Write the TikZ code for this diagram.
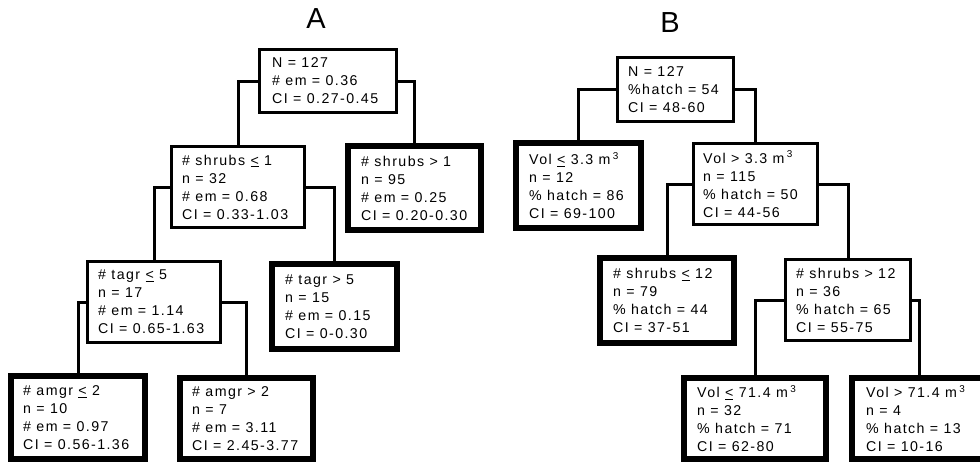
\documentclass[tikz,border=0pt]{standalone}
\usepackage{fontspec}
\setmainfont{Liberation Sans}[LetterSpace=10]
\newcommand\leu{\underline{<}}
\newcommand\cube{\,\textsuperscript{3}}
\begin{document}
\begin{tikzpicture}[x=1pt,y=-1pt,
  thinbox/.style={draw, line width=3.2pt, inner sep=0pt},
  thickbox/.style={draw, line width=6pt, inner sep=0pt},
  txt/.style={anchor=west, inner sep=0pt, align=left, font=\fontsize{14.2}{18}\selectfont},
  conn/.style={line width=3pt},
  ttl/.style={font=\fontsize{29}{30}\selectfont}]
\useasboundingbox (0,0) rectangle (980,463);
\clip (0,0) rectangle (980,463);
% titles
\node[ttl] (tA) at (316,19) {A};
\node[ttl] (tB) at (670,23) {B};
% tree A
\node[thinbox, minimum width=136.8, minimum height=62.8] (a0) at (328,81) {};
\node[thinbox, minimum width=132.8, minimum height=80.8] (a1) at (238,187) {};
\node[thickbox, minimum width=133, minimum height=84] (a2) at (414.5,188) {};
\node[thinbox, minimum width=132.8, minimum height=80.8] (a3) at (154,302) {};
\node[thickbox, minimum width=125, minimum height=85] (a4) at (334.5,306.5) {};
\node[thickbox, minimum width=134, minimum height=83] (a5) at (78,417.5) {};
\node[thickbox, minimum width=133, minimum height=81] (a6) at (246.5,418.5) {};
\node[txt] (ta0) at ([xshift=14]a0.west) {N = 127\\\# em = 0.36\\CI = 0.27-0.45};
\node[txt] (ta1) at ([xshift=12]a1.west) {\# shrubs \leu{} 1\\n = 32\\\# em = 0.68\\CI = 0.33-1.03};
\node[txt] (ta2) at ([xshift=16]a2.west) {\# shrubs > 1\\n = 95\\\# em = 0.25\\CI = 0.20-0.30};
\node[txt] (ta3) at ([xshift=12]a3.west) {\# tagr \leu{} 5\\n = 17\\\# em = 1.14\\CI = 0.65-1.63};
\node[txt] (ta4) at ([xshift=16]a4.west) {\# tagr > 5\\n = 15\\\# em = 0.15\\CI = 0-0.30};
\node[txt] (ta5) at ([xshift=15]a5.west) {\# amgr \leu{} 2\\n = 10\\\# em = 0.97\\CI = 0.56-1.36};
\node[txt] (ta6) at ([xshift=15]a6.west) {\# amgr > 2\\n = 7\\\# em = 3.11\\CI = 2.45-3.77};
\draw[conn] (a0.west) -| (a1.north);
\draw[conn] (a0.east) -| (a2.north);
\draw[conn] (a1.west) -| (a3.north);
\draw[conn] (a1.east) -| (a4.north);
\draw[conn] (a3.west) -| (a5.north);
\draw[conn] (a3.east) -| (a6.north);
% tree B
\node[thinbox, minimum width=115.8, minimum height=63.8] (b0) at (675.5,89.5) {};
\node[thickbox, minimum width=125, minimum height=85] (b1) at (578.5,185.5) {};
\node[thinbox, minimum width=123.8, minimum height=80.8] (b2) at (755.5,184) {};
\node[thickbox, minimum width=134, minimum height=85] (b3) at (667,300.5) {};
\node[thinbox, minimum width=124.8, minimum height=80.8] (b4) at (848,300) {};
\node[thickbox, minimum width=142, minimum height=81] (b5) at (755,418.5) {};
\node[thickbox, minimum width=134, minimum height=81] (b6) at (919,418.5) {};
\node[txt] (tb0) at ([xshift=12]b0.west) {N = 127\\\%hatch = 54\\CI = 48-60};
\node[txt] (tb1) at ([xshift=16]b1.west) {Vol \leu{} 3.3 m\cube\\n = 12\\\% hatch = 86\\CI = 69-100};
\node[txt] (tb2) at ([xshift=11]b2.west) {Vol > 3.3 m\cube\\n = 115\\\% hatch = 50\\CI = 44-56};
\node[txt] (tb3) at ([xshift=16]b3.west) {\# shrubs \leu{} 12\\n = 79\\\% hatch = 44\\CI = 37-51};
\node[txt] (tb4) at ([xshift=12]b4.west) {\# shrubs > 12\\n = 36\\\% hatch = 65\\CI = 55-75};
\node[txt] (tb5) at ([xshift=16]b5.west) {Vol \leu{} 71.4 m\cube\\n = 32\\\% hatch = 71\\CI = 62-80};
\node[txt] (tb6) at ([xshift=17]b6.west) {Vol > 71.4 m\cube\\n = 4\\\% hatch = 13\\CI = 10-16};
\draw[conn] (b0.west) -| (b1.north);
\draw[conn] (b0.east) -| (b2.north);
\draw[conn] (b2.west) -| (b3.north);
\draw[conn] (b2.east) -| (b4.north);
\draw[conn] (b4.west) -| (b5.north);
\draw[conn] (b4.east) -| (b6.north);
\end{tikzpicture}
\end{document}
